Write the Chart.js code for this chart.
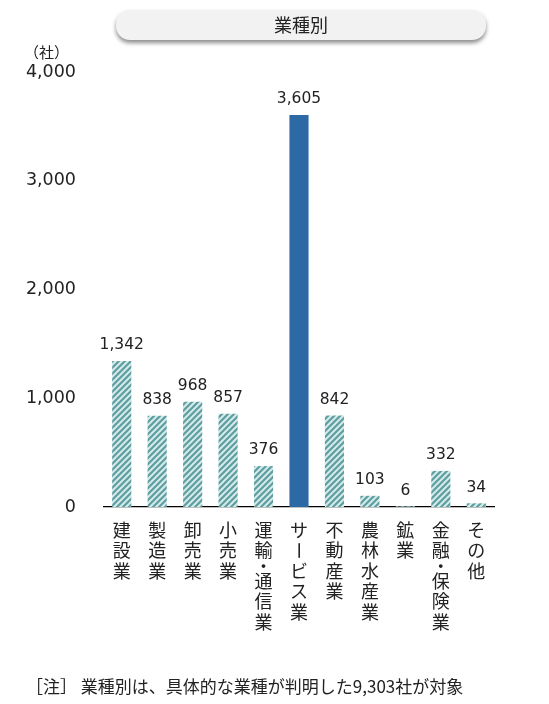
<!DOCTYPE html>
<html>
<head>
<meta charset="utf-8">
<script src="https://cdn.jsdelivr.net/npm/chart.js@4.4.1/dist/chart.umd.min.js"></script>
<style>
  html, body { margin: 0; padding: 0; background: #fff; }
  #wrap { width: 549px; height: 704px; position: relative; }
</style>
</head>
<body>
<div id="wrap"><canvas id="chart" width="549" height="704"></canvas></div>
<script>
const categories = ["建設業", "製造業", "卸売業", "小売業", "運輸・通信業", "サービス業", "不動産業", "農林水産業", "鉱業", "金融・保険業", "その他"];
const counts = [1342, 838, 968, 857, 376, 3605, 842, 103, 6, 332, 34];
const yTicks = [0, 1000, 2000, 3000, 4000];
const titleText = "業種別";
const unitText = "（社）";
const noteText = "［注］ 業種別は、具体的な業種が判明した9,303社が対象";

const FONT = "'Noto Sans CJK JP', 'Noto Sans', sans-serif";
const NUMFONT = "'DejaVu Sans', 'Noto Sans CJK JP', sans-serif";

// 斜線パターン
function makeHatch() {
    const c = document.createElement("canvas");
    c.width = 6; c.height = 6;
    const g = c.getContext("2d");
    g.fillStyle = "#d4ebea";
    g.fillRect(0, 0, 6, 6);
    g.strokeStyle = "#5e9ea1";
    g.lineWidth = 2.2;
    g.beginPath();
    g.moveTo(-1, 7); g.lineTo(7, -1);
    g.moveTo(-4, 4); g.lineTo(4, -4);
    g.moveTo(2, 10); g.lineTo(10, 2);
    g.stroke();
    return g.createPattern(c, "repeat");
}
const ctx = document.getElementById("chart").getContext("2d");
const hatch = makeHatch();
const colors = categories.map((c) => c === "サービス業" ? "#2d69a4" : hatch);

const extras = {
    id: "extras",
    afterDraw(chart) {
        const g = chart.ctx;
        const area = chart.chartArea;
        g.save();

        // タイトルボックス
        g.shadowColor = "rgba(0,0,0,0.45)";
        g.shadowBlur = 4;
        g.shadowOffsetY = 3;
        g.fillStyle = "#f2f2f2";
        g.beginPath();
        g.roundRect(116, 10, 370, 30, 14);
        g.fill();
        g.shadowColor = "transparent";
        g.fillStyle = "#222";
        g.font = "18px " + FONT;
        g.textAlign = "center";
        g.textBaseline = "middle";
        g.fillText(titleText, 301, 25);

        // 単位
        g.font = "15px " + FONT;
        g.textAlign = "left";
        g.fillText(unitText, 24, 52);

        // 数値ラベル
        const meta = chart.getDatasetMeta(0);
        g.font = "15.5px " + NUMFONT;
        g.textAlign = "center";
        g.textBaseline = "bottom";
        meta.data.forEach((bar, i) => {
            g.fillText(counts[i].toLocaleString("en-US"), bar.x, bar.y - 8);
        });

        // 縦書きカテゴリ
        g.font = "18px " + FONT;
        g.textBaseline = "middle";
        meta.data.forEach((bar, i) => {
            let y = area.bottom + 23;
            [...categories[i]].forEach((ch) => {
                if (ch === "・") {
                    g.fillText(ch, bar.x, y - 5);
                    y += 10;
                    return;
                }
                if (ch === "ー") {
                    g.save();
                    g.translate(bar.x, y);
                    g.rotate(Math.PI / 2);
                    g.fillText(ch, 0, 0);
                    g.restore();
                } else {
                    g.fillText(ch, bar.x, y);
                }
                y += 20.5;
            });
        });

        // 注記
        g.font = "17px " + FONT;
        g.textAlign = "left";
        g.fillText(noteText, 26, 687);
        g.restore();
    }
};

new Chart(ctx, {
    type: "bar",
    data: {
        labels: categories,
        datasets: [{
            data: counts,
            backgroundColor: colors,
            categoryPercentage: 1,
            barPercentage: 0.54
        }]
    },
    options: {
        responsive: false,
        animation: false,
        layout: { padding: { top: 72, left: 0, right: 55, bottom: 197 } },
        plugins: { legend: { display: false }, tooltip: { enabled: false } },
        scales: {
            x: {
                grid: { display: false },
                border: { display: true, color: "#000", width: 1.2 },
                ticks: { display: false },
                afterFit: (s) => { s.height = 0; }
            },
            y: {
                min: 0,
                max: 4000,
                afterBuildTicks: (s) => { s.ticks = yTicks.map((v) => ({ value: v })); },
                grid: { display: false },
                border: { display: false },
                ticks: {
                    color: "#222",
                    font: { size: 17.5, family: NUMFONT },
                    padding: 20,
                    callback: (v) => v.toLocaleString("en-US")
                },
                afterFit: (s) => { s.width = 104; }
            }
        }
    },
    plugins: [extras]
});
</script>
</body>
</html>
